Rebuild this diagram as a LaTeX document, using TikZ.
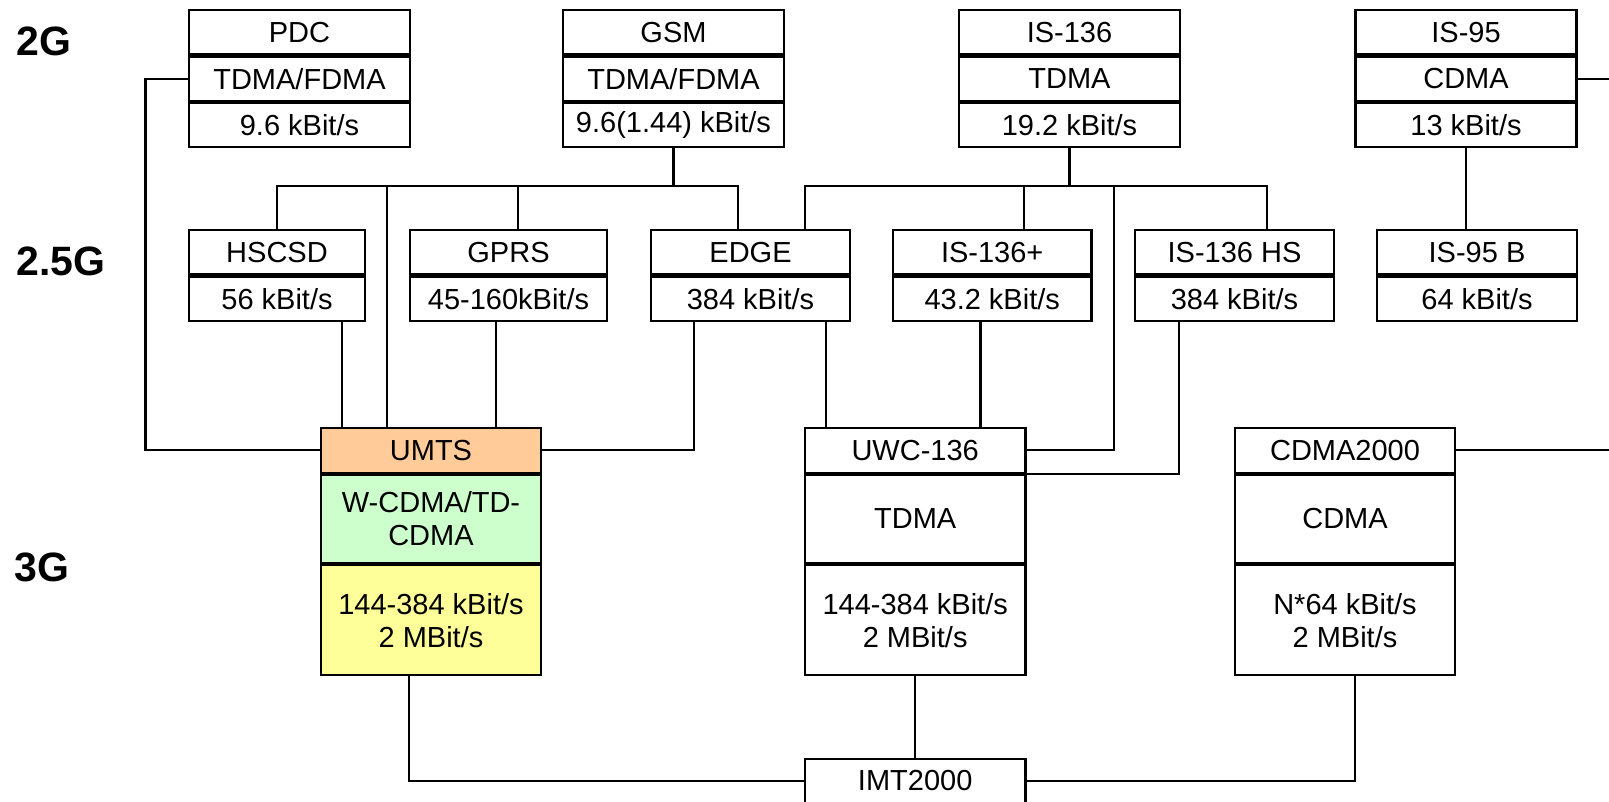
\documentclass[tikz,border=0pt]{standalone}
\usepackage{fontspec}
\setmainfont{Liberation Sans}
\usetikzlibrary{positioning}
\definecolor{umtsorange}{RGB}{255,204,153}
\definecolor{umtsgreen}{RGB}{204,255,204}
\definecolor{umtsyellow}{RGB}{255,255,153}
\tikzset{
  cell/.style={
    draw,
    line width=2.2pt,
    inner sep=0pt,
    align=center,
    font=\fontsize{29}{33}\selectfont
  },
  wire/.style={line width=2.2pt},
  gen/.style={anchor=west, font=\fontsize{41}{41}\selectfont\bfseries}
}

\begin{document}
\begin{tikzpicture}[x=1pt,y=-1pt]
  \useasboundingbox (0,0) rectangle (1609,801);

  % generation labels
  \node[gen] (g2)  at (13,41)  {2G};
  \node[gen] (g25) at (13,261) {2.5G};
  \node[gen] (g3)  at (11,567) {3G};

  % 2G systems
  \foreach \name/\x/\sys/\acc/\rate in {
    pdc/299.5/PDC/{TDMA/FDMA}/{9.6 kBit/s},
    gsm/673.5/GSM/{TDMA/FDMA}/{9.6(1.44) kBit/s},
    is136/1069.5/IS-136/TDMA/{19.2 kBit/s},
    is95/1466/IS-95/CDMA/{13 kBit/s}} {
    \node[cell, minimum width=221pt, minimum height=44.3pt] (\name) at (\x,32.2) {\sys};
    \node[cell, minimum width=221pt, minimum height=44.3pt, below=0pt of \name] (\name-2) {\acc};
    \node[cell, minimum width=221pt, minimum height=44.3pt, below=0pt of \name-2] (\name-3) {\rate};
  }

  % 2.5G systems
  \foreach \name/\x/\w/\sys/\rate in {
    hscsd/277/176/HSCSD/{56 kBit/s},
    gprs/508.5/197/GPRS/{45-160kBit/s},
    edge/750.5/199/EDGE/{384 kBit/s},
    is136p/992.2/198.5/IS-136+/{43.2 kBit/s},
    is136hs/1234.5/199/{IS-136 HS}/{384 kBit/s},
    is95b/1477/200/{IS-95 B}/{64 kBit/s}} {
    \node[cell, minimum width=\w pt, minimum height=44.5pt] (\name) at (\x,252.2) {\sys};
    \node[cell, minimum width=\w pt, minimum height=44.5pt, below=0pt of \name] (\name-2) {\rate};
  }

  % 3G systems
  \node[cell, fill=umtsorange, minimum width=220pt, minimum height=44.7pt] (umts) at (431,450.3) {UMTS};
  \node[cell, fill=umtsgreen, minimum width=220pt, minimum height=88.3pt, below=0pt of umts] (umts-2) {W-CDMA/TD-\\CDMA};
  \node[cell, fill=umtsyellow, minimum width=220pt, minimum height=110pt, below=0pt of umts-2] (umts-3) {144-384 kBit/s\\2 MBit/s};

  \node[cell, minimum width=220.5pt, minimum height=44.7pt] (uwc) at (915.2,450.3) {UWC-136};
  \node[cell, minimum width=220.5pt, minimum height=88.3pt, below=0pt of uwc] (uwc-2) {TDMA};
  \node[cell, minimum width=220.5pt, minimum height=110pt, below=0pt of uwc-2] (uwc-3) {144-384 kBit/s\\2 MBit/s};

  \node[cell, minimum width=220pt, minimum height=44.7pt] (cdma) at (1345,450.3) {CDMA2000};
  \node[cell, minimum width=220pt, minimum height=88.3pt, below=0pt of cdma] (cdma-2) {CDMA};
  \node[cell, minimum width=220pt, minimum height=110pt, below=0pt of cdma-2] (cdma-3) {N*64 kBit/s\\2 MBit/s};

  \node[cell, minimum width=220.5pt, minimum height=44pt] (imt) at (915.2,781) {IMT2000};

  % ports on the box edges
  \coordinate (gsmbus) at (0,186);
  \coordinate (leftrail) at (145.5,0);
  \coordinate (rightedge) at (1612,0);
  \coordinate (gprs-up) at ([xshift=109pt]gprs.north west);
  \coordinate (edge-up) at ([xshift=88pt]edge.north west);
  \coordinate (edge-up2) at ([xshift=155pt]edge.north west);
  \coordinate (is136p-up) at ([xshift=132.5pt]is136p.north west);
  \coordinate (is136hs-up) at ([xshift=133pt]is136hs.north west);
  \coordinate (is136-rail) at (1113.7,186);
  \coordinate (hscsd-dn) at ([xshift=154pt]hscsd-2.south west);
  \coordinate (gprs-dn) at ([xshift=87pt]gprs-2.south west);
  \coordinate (edge-dn) at ([xshift=44pt]edge-2.south west);
  \coordinate (edge-dn2) at ([xshift=176pt]edge-2.south west);
  \coordinate (is136p-dn) at ([xshift=88.6pt]is136p-2.south west);
  \coordinate (is136hs-dn) at ([xshift=45pt]is136hs-2.south west);
  \coordinate (umts-in) at ([xshift=67pt]umts.north west);
  \coordinate (umts-dn) at ([xshift=89pt]umts-3.south west);
  \coordinate (cdma-dn) at ([xshift=121pt]cdma-3.south west);

  % 2G -> 2.5G
  \draw[wire] (gsm-3.south) -- (gsm-3.south |- gsmbus);
  \draw[wire] (hscsd.north) |- (edge-up |- gsmbus) -- (edge-up);
  \draw[wire] (gprs-up) -- (gprs-up |- gsmbus);
  \draw[wire] (is136-3.south) -- (is136-3.south |- gsmbus);
  \draw[wire] (edge-up2) |- (is136hs-up |- gsmbus) -- (is136hs-up);
  \draw[wire] (is136p-up) -- (is136p-up |- gsmbus);
  \draw[wire] (is95-3.south) -- (is95-3.south |- is95b.north);
  \draw[wire] (is95-2.east) -- (is95-2.east -| rightedge);

  % into 3G
  \draw[wire] (pdc-2.west) -| (leftrail |- umts.west) -- (umts.west);
  \draw[wire] (umts-in |- gsmbus) -- (umts-in);
  \draw[wire] (hscsd-dn) -- (hscsd-dn |- umts.north);
  \draw[wire] (gprs-dn) -- (gprs-dn |- umts.north);
  \draw[wire] (edge-dn) |- (umts.east);
  \draw[wire] (edge-dn2) -- (edge-dn2 |- uwc.north);
  \draw[wire] (is136p-dn) -- (is136p-dn |- uwc.north);
  \draw[wire] (is136-rail) |- (uwc.east);
  \draw[wire] (is136hs-dn) |- (uwc.south east);
  \draw[wire] (cdma.east) -- (cdma.east -| rightedge);

  % 3G -> IMT2000
  \draw[wire] (umts-dn) |- (imt.west);
  \draw[wire] (uwc-3.south) -- (imt.north);
  \draw[wire] (cdma-dn) |- (imt.east);
\end{tikzpicture}
\end{document}
